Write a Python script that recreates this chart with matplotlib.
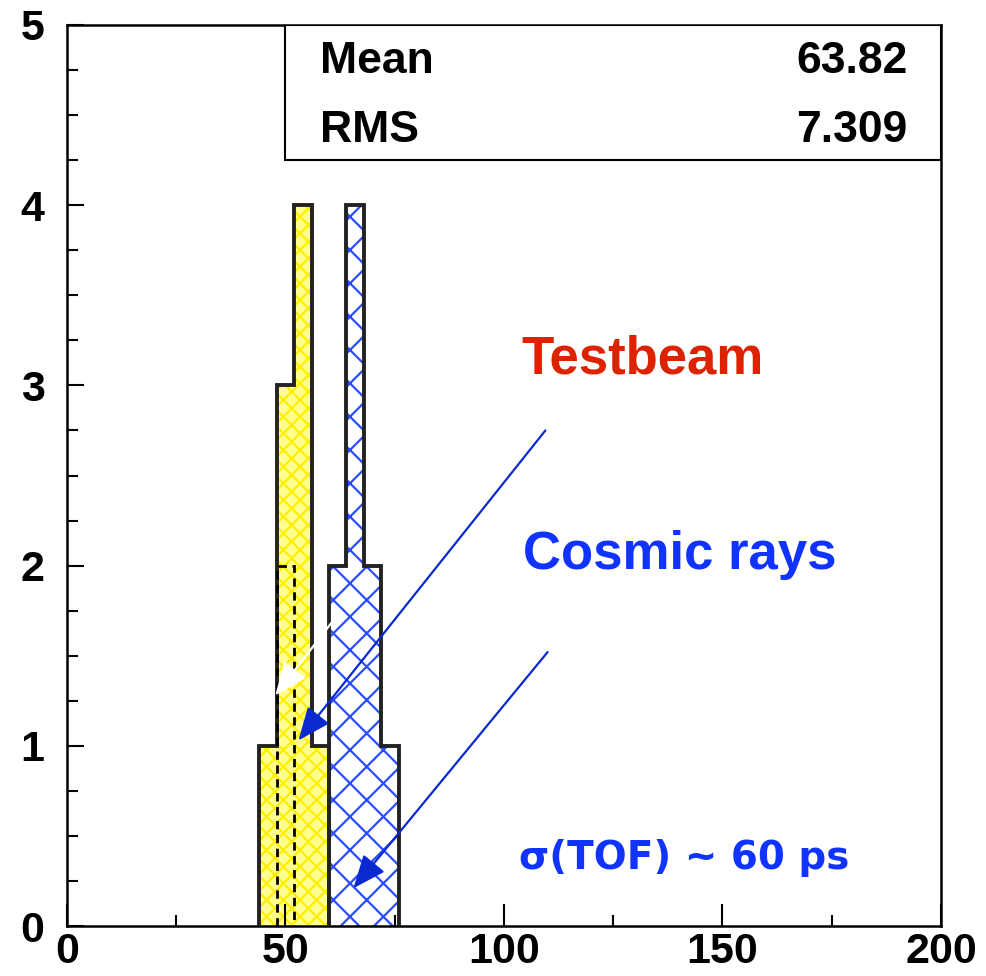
import matplotlib
matplotlib.use('Agg')
import matplotlib.pyplot as plt
from matplotlib.patches import Rectangle
from matplotlib.ticker import MultipleLocator

# ---- data ----
bin_edges_tb = [44, 48, 52, 56, 60]
counts_tb = [1, 3, 4, 1]            # testbeam (yellow)
bin_edges_cr = [60, 64, 68, 72, 76]
counts_cr = [2, 4, 2, 1]            # cosmic rays (blue)
bin_edges_dash = [48, 52]
counts_dash = [2]                   # dashed overlay
stat_names = ["Mean", "RMS"]
stat_values = ["63.82", "7.309"]
x_ticks = [0, 50, 100, 150, 200]
y_ticks = [0, 1, 2, 3, 4, 5]

NARROW = ["Liberation Sans Narrow", "Liberation Sans", "DejaVu Sans"]
plt.rcParams["hatch.linewidth"] = 1.6

fig = plt.figure(figsize=(9.87, 9.76), dpi=100)
ax = fig.add_axes([0.0676, 0.0512, 0.8858, 0.9232])

# filled + hatched histograms
ax.stairs(counts_tb, bin_edges_tb, fill=True, facecolor="#ffff90",
          edgecolor="#ffee00", hatch="xx", linewidth=0, zorder=1)
ax.stairs(counts_cr, bin_edges_cr, fill=True, facecolor="white",
          edgecolor="#2a4dff", hatch="x", linewidth=0, zorder=1)

# outlines
ax.stairs(counts_tb, bin_edges_tb, color="#222222", linewidth=2.8, zorder=3)
ax.stairs(counts_cr, bin_edges_cr, color="#222222", linewidth=2.8, zorder=3)
ax.stairs(counts_dash, bin_edges_dash, color="black", linewidth=2.0,
          linestyle=(0, (3, 2)), zorder=4)

# arrows
arrows = [((109.5, 2.75), (53.0, 1.03), "#0a2ad0"),
          ((110.0, 1.52), (65.6, 0.21), "#0a2ad0"),
          ((60.8, 1.69), (47.7, 1.28), "white")]
for (x0, y0), (x1, y1), col in arrows:
    ax.annotate("", xy=(x1, y1), xytext=(x0, y0), zorder=5,
                arrowprops=dict(arrowstyle="-|>,head_length=1.2,head_width=0.5",
                                mutation_scale=17, color=col, lw=1.6,
                                shrinkA=0, shrinkB=0))

# labels
ax.text(104.1, 3.144, "Testbeam", color="#dd2200", fontsize=38,
        fontweight="bold", family="Liberation Sans", va="center", ha="left", zorder=6)
ax.text(104.3, 2.061, "Cosmic rays", color="#1133ff", fontsize=38,
        fontweight="bold", family="Liberation Sans", va="center", ha="left", zorder=6)
ax.text(103.4, 0.378, "σ(TOF) ~ 60 ps", color="#1133ff", fontsize=28,
        fontweight="bold", family="DejaVu Sans", va="center", ha="left", zorder=6)

# stats box
ax.add_patch(Rectangle((0.25, 0.85), 0.75, 0.15, transform=ax.transAxes,
                       facecolor="white", edgecolor="black", lw=1.5, zorder=7))
for name, val, yy in zip(stat_names, stat_values, [0.959, 0.883]):
    ax.text(0.29, yy, name, transform=ax.transAxes, fontsize=32, fontweight="bold",
            family=NARROW, va="center", ha="left", zorder=8)
    ax.text(0.962, yy, val, transform=ax.transAxes, fontsize=32, fontweight="bold",
            family=NARROW, va="center", ha="right", zorder=8)

# axes
ax.set_xlim(0, 200)
ax.set_ylim(0, 5)
ax.set_xticks(x_ticks)
ax.set_yticks(y_ticks)
ax.xaxis.set_minor_locator(MultipleLocator(25))
ax.yaxis.set_minor_locator(MultipleLocator(0.25))
ax.tick_params(which="both", direction="in", top=False, right=False, width=1.5)
ax.tick_params(which="major", axis="x", length=16, pad=4)
ax.tick_params(which="minor", axis="x", length=8)
ax.tick_params(which="major", axis="y", length=12, pad=16)
ax.tick_params(which="minor", axis="y", length=8)
for lab in ax.get_xticklabels() + ax.get_yticklabels():
    lab.set_fontsize(31)
    lab.set_fontweight("bold")
    lab.set_family(NARROW)
for sp in ax.spines.values():
    sp.set_linewidth(1.8)

fig.savefig("out.png", dpi=100)
